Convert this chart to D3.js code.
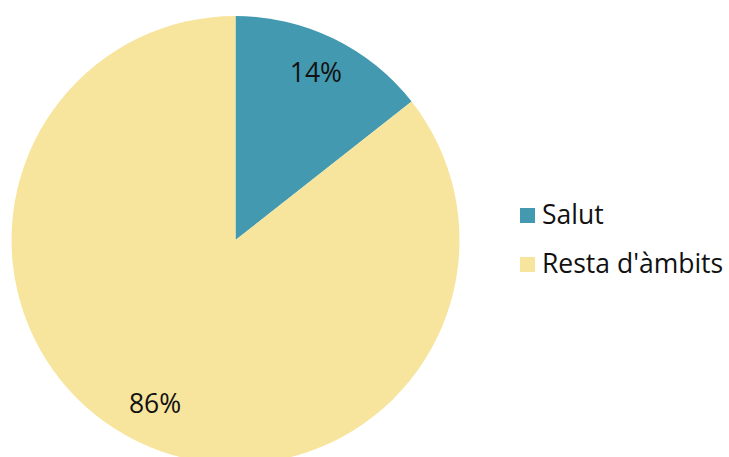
<!DOCTYPE html>
<html>
<head>
<meta charset="utf-8">
<script src="https://cdn.jsdelivr.net/npm/d3@7"></script>
<style>
  body { margin: 0; background: #fff; }
  text { font-family: "Open Sans", "Noto Sans", sans-serif; }
</style>
</head>
<body>
<script>
// dades
var categories = ["Salut", "Resta d'àmbits"];
var values = [14.4, 85.6];
var labels = ["14%", "86%"];
var colors = ["#4399b0", "#f7e49d"];

var width = 729, height = 457;
var cx = 235.5, cy = 240, radius = 224;

var svg = d3.select("body").append("svg")
    .attr("width", width)
    .attr("height", height);

var color = d3.scaleOrdinal().domain(categories).range(colors);

var pie = d3.pie().sort(null).value(function(d) { return d.value; });
var arc = d3.arc().innerRadius(0).outerRadius(radius);
var labelArc = d3.arc().innerRadius(184).outerRadius(184);

var data = categories.map(function(c, i) {
    return {name: c, value: values[i], label: labels[i]};
});

var g = svg.append("g")
    .attr("transform", "translate(" + cx + "," + cy + ")");

var slices = g.selectAll(".slice")
    .data(pie(data))
    .enter().append("g")
    .attr("class", "slice");

slices.append("path")
    .attr("d", arc)
    .style("fill", function(d) { return color(d.data.name); });

slices.append("text")
    .attr("transform", function(d) { return "translate(" + labelArc.centroid(d) + ")"; })
    .attr("text-anchor", "middle")
    .attr("dy", "0.3em")
    .style("font-size", "26.5px")
    .attr("fill", "#111")
    .text(function(d) { return d.data.label; });

// llegenda
var legend = svg.selectAll(".legend")
    .data(categories).enter()
    .append("g")
    .attr("class", "legend")
    .attr("transform", function(d, i) { return "translate(520," + (208 + 49 * i) + ")"; });

legend.append("rect")
    .attr("width", 15)
    .attr("height", 15)
    .style("fill", function(d) { return color(d); });

legend.append("text")
    .attr("x", 22)
    .attr("y", 16)
    .style("font-size", "26.5px")
    .attr("fill", "#111")
    .text(function(d) { return d; });
</script>
</body>
</html>
